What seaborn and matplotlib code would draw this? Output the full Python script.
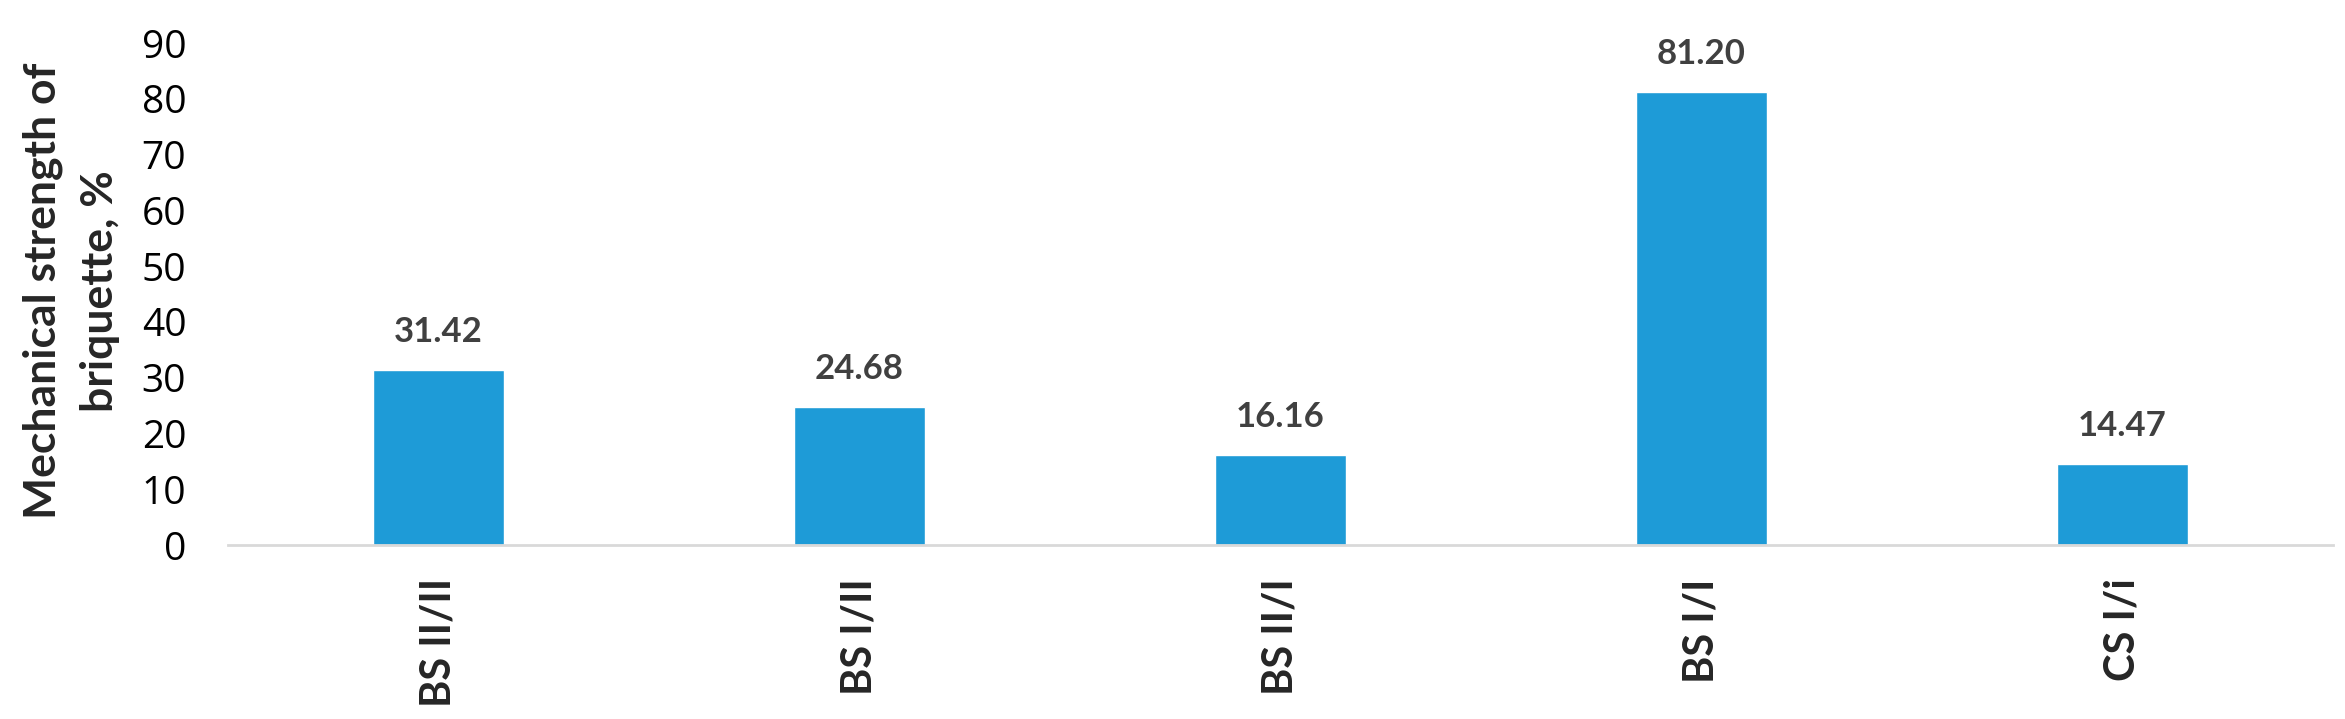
import matplotlib
matplotlib.use("Agg")
import matplotlib.pyplot as plt
import seaborn as sns
import pandas as pd

# Data
samples = ["BS II/II", "BS I/II", "BS II/I", "BS I/I", "CS I/i"]
strength = [31.42, 24.68, 16.16, 81.20, 14.47]
y_ticks = [0, 10, 20, 30, 40, 50, 60, 70, 80, 90]

BAR_COLOR = "#1E9BD7"
BOLD_FONT = ["Lato", "DejaVu Sans"]

sns.set_theme(style="white")
plt.rcParams["font.family"] = ["Open Sans", "DejaVu Sans"]

df = pd.DataFrame({"sample": samples, "strength": strength})

fig = plt.figure(figsize=(23.45, 7.19), dpi=100)
ax = fig.add_axes([0.0972, 0.242, 0.8977, 0.698])

sns.barplot(data=df, x="sample", y="strength", color=BAR_COLOR,
            width=0.311, saturation=1, ax=ax)

# value labels above bars
for patch, val in zip(ax.patches, strength):
    ax.text(patch.get_x() + patch.get_width() / 2, val + 5.0, f"{val:.2f}",
            ha="center", va="baseline", fontsize=25, fontweight="bold",
            color="#404040", family=BOLD_FONT)

ax.set_ylim(0, 90)
ax.set_yticks(y_ticks)
ax.set_xlim(-0.5, len(samples) - 0.5)
ax.tick_params(axis="y", labelsize=28, length=0, pad=30, colors="#000000")
ax.tick_params(axis="x", length=0, pad=24)
ax.set_xticks(range(len(samples)))
ax.set_xticklabels(samples, rotation=90, fontsize=30, fontweight="bold",
                   family=BOLD_FONT)

ax.set_xlabel("")
ax.set_ylabel("Mechanical strength of\nbriquette, %", fontsize=32,
              fontweight="bold", family=BOLD_FONT, linespacing=1.5)
ax.yaxis.set_label_coords(-0.0515, 0.506)

for side in ["top", "right", "left"]:
    ax.spines[side].set_visible(False)
ax.spines["bottom"].set_color("#D9D9D9")
ax.spines["bottom"].set_linewidth(2)
ax.grid(False)

fig.savefig("out.png", dpi=100)
